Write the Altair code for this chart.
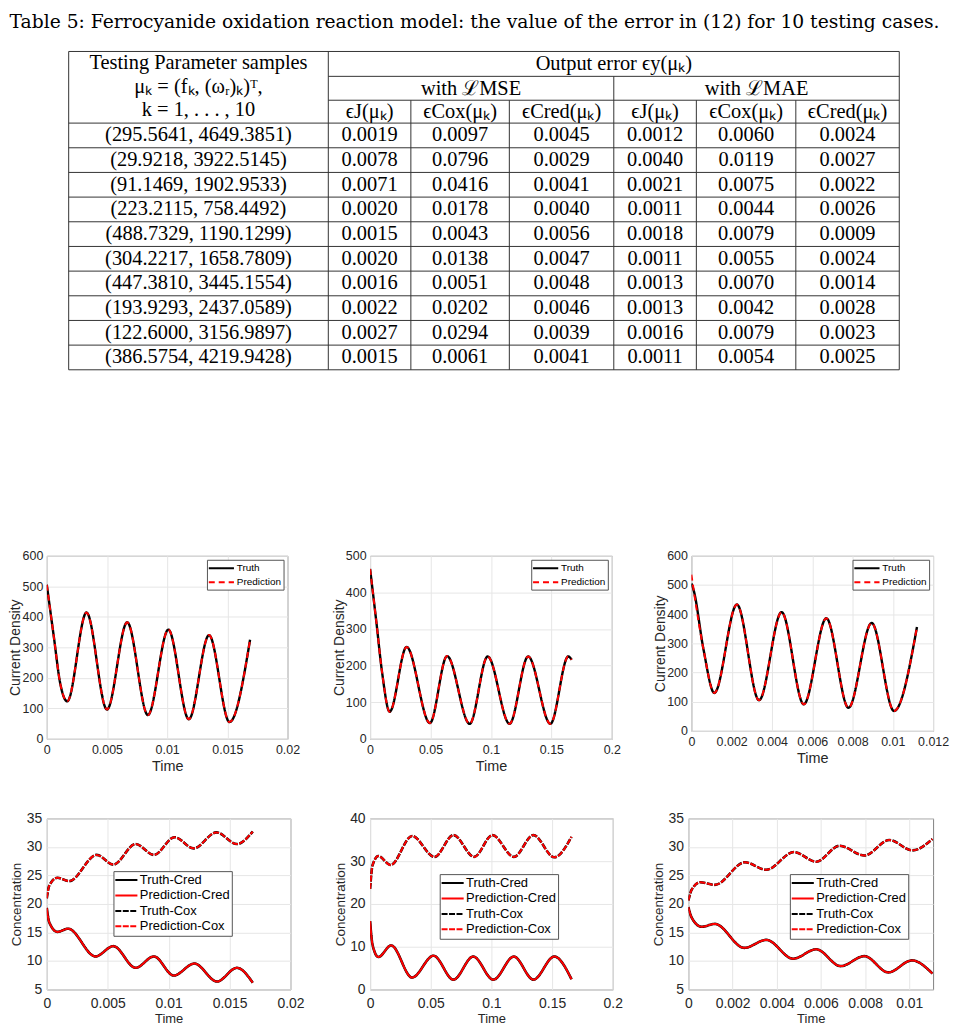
import altair as alt
import pandas as pd

# ---------------- table data ----------------
caption = "Table 5: Ferrocyanide oxidation reaction model: the value of the error in (12) for 10 testing cases."
head_param = ["Testing Parameter samples", "μₖ = (fₖ, (ωᵣ)ₖ)ᵀ,", "k = 1, . . . , 10"]
head_output = "Output error ϵy(μₖ)"
head_groups = ["with ℒMSE", "with ℒMAE"]
head_cols = ["ϵJ(μₖ)", "ϵCox(μₖ)", "ϵCred(μₖ)", "ϵJ(μₖ)", "ϵCox(μₖ)", "ϵCred(μₖ)"]
param_samples = ["(295.5641, 4649.3851)", "(29.9218, 3922.5145)", "(91.1469, 1902.9533)",
                 "(223.2115, 758.4492)", "(488.7329, 1190.1299)", "(304.2217, 1658.7809)",
                 "(447.3810, 3445.1554)", "(193.9293, 2437.0589)", "(122.6000, 3156.9897)",
                 "(386.5754, 4219.9428)"]
mse_J = [0.0019, 0.0078, 0.0071, 0.0020, 0.0015, 0.0020, 0.0016, 0.0022, 0.0027, 0.0015]
mse_Cox = [0.0097, 0.0796, 0.0416, 0.0178, 0.0043, 0.0138, 0.0051, 0.0202, 0.0294, 0.0061]
mse_Cred = [0.0045, 0.0029, 0.0041, 0.0040, 0.0056, 0.0047, 0.0048, 0.0046, 0.0039, 0.0041]
mae_J = [0.0012, 0.0040, 0.0021, 0.0011, 0.0018, 0.0011, 0.0013, 0.0013, 0.0016, 0.0011]
mae_Cox = [0.0060, 0.0119, 0.0075, 0.0044, 0.0079, 0.0055, 0.0070, 0.0042, 0.0079, 0.0054]
mae_Cred = [0.0024, 0.0027, 0.0022, 0.0026, 0.0009, 0.0024, 0.0014, 0.0028, 0.0023, 0.0025]

# ---------------- curve data (read at extrema) ----------------
p1_t = [0, 0.0006, 0.0011, 0.0017, 0.0033, 0.0050, 0.00668, 0.0084, 0.0101, 0.0118, 0.01348, 0.01518, 0.01689]
p1_truth = [505, 330, 185, 123, 414, 96, 382, 78, 358, 64, 340, 55, 325]
p1_pred = [505, 330, 185, 123, 414, 96, 382, 78, 358, 64, 340, 55, 325]
p2_t = [0, 0.005, 0.010, 0.0162, 0.0302, 0.0495, 0.0637, 0.0824, 0.0973, 0.1154, 0.1308, 0.1492, 0.164, 0.1668]
p2_truth = [464, 325, 180, 74, 251, 43, 226, 41, 225, 41, 225, 41, 225, 216]
p2_pred = [464, 325, 180, 74, 251, 43, 226, 41, 225, 41, 225, 41, 225, 216]
p3_t = [0, 0.00012, 0.0006, 0.00114, 0.00226, 0.00336, 0.00448, 0.00558, 0.0067, 0.0078, 0.00895, 0.01006, 0.0112]
p3_truth = [505, 480, 280, 130, 433, 105, 407, 91, 386, 79, 370, 68, 356]
p3_pred = [535, 480, 280, 130, 433, 105, 407, 91, 386, 79, 370, 68, 356]
p4_t_ox = [0, 0.0002, 0.00087, 0.00183, 0.0041, 0.00546, 0.00729, 0.0088, 0.01048, 0.01206, 0.01392, 0.0156, 0.0169]
p4_ox = [21.0, 23.2, 24.6, 24.0, 28.6, 26.9, 30.5, 28.6, 31.7, 29.75, 32.55, 30.5, 32.7]
p4_t_red = [0, 0.0002, 0.00087, 0.00175, 0.0040, 0.00546, 0.00729, 0.00879, 0.01042, 0.01211, 0.01397, 0.0156, 0.0169]
p4_red = [19.3, 16.8, 15.1, 15.66, 10.8, 12.6, 8.8, 10.8, 7.45, 9.55, 6.4, 8.8, 6.2]
p5_t_ox = [0, 0.002, 0.0068, 0.0169, 0.0346, 0.0531, 0.0687, 0.0858, 0.1008, 0.1185, 0.1346, 0.1518, 0.166]
p5_ox = [23.5, 29.0, 31.2, 29.1, 35.9, 31.0, 36.1, 31.0, 36.1, 31.0, 36.1, 30.9, 35.7]
p5_t_red = [0, 0.002, 0.0068, 0.0174, 0.0346, 0.0523, 0.0687, 0.0850, 0.1016, 0.1185, 0.1346, 0.1518, 0.166]
p5_red = [16.0, 10.5, 7.6, 10.3, 2.8, 7.9, 2.3, 7.7, 2.3, 7.7, 2.3, 7.7, 2.4]
p6_t_ox = [0, 0.00015, 0.00053, 0.0012, 0.00256, 0.00353, 0.00478, 0.00579, 0.00684, 0.00797, 0.0091, 0.01015, 0.01105]
p6_ox = [20.6, 22.5, 23.8, 23.35, 27.3, 26.0, 29.1, 27.4, 30.2, 28.5, 31.2, 29.4, 31.4]
p6_t_red = [0, 0.00015, 0.0006, 0.0012, 0.00253, 0.00353, 0.00474, 0.00579, 0.00689, 0.00797, 0.00905, 0.01012, 0.01105]
p6_red = [19.45, 17.6, 16.0, 16.5, 12.3, 13.7, 10.4, 12.05, 9.1, 10.85, 8.0, 10.1, 7.8]

# ---------------- table layout (pixels relative to the table view origin) ----------------
OX, OY = 46, 11                     # page position of the table view origin
TW, TH = 900, 488
PAGE_COL = [68, 329, 412, 511, 616, 699, 799, 903]
COL = [c - OX for c in PAGE_COL]
Y_TOP, Y_OUT, Y_WITH, Y_HEAD, Y_BOT = [v - OY for v in (51, 76, 100, 123, 371)]
ROW_H = (Y_BOT - Y_HEAD) / 10
SERIF = "Liberation Serif"
SANS = "Liberation Sans"

rules = []
def hr(x1, x2, y):
    rules.append(dict(x=x1, x2=x2, y=y, y2=y))
def vr(x, y1, y2):
    rules.append(dict(x=x, x2=x, y=y1, y2=y2))

hr(COL[0], COL[7], Y_TOP)
hr(COL[1], COL[7], Y_OUT)
hr(COL[1], COL[7], Y_WITH)
for i in range(11):
    hr(COL[0], COL[7], Y_HEAD + i * ROW_H)
for c in (0, 1, 7):
    vr(COL[c], Y_TOP, Y_BOT)
vr(COL[4], Y_OUT, Y_BOT)
for c in (2, 3, 5, 6):
    vr(COL[c], Y_WITH, Y_BOT)
rules_df = pd.DataFrame(rules)

texts = []
c0 = (COL[0] + COL[1]) / 2
for txt, y in zip(head_param, [63, 87, 110]):
    texts.append(dict(x=c0, y=y - OY, t=txt))
texts.append(dict(x=(COL[1] + COL[7]) / 2, y=64 - OY, t=head_output))
texts.append(dict(x=(COL[1] + COL[4]) / 2, y=89 - OY, t=head_groups[0]))
texts.append(dict(x=(COL[4] + COL[7]) / 2, y=89 - OY, t=head_groups[1]))
for j, h in enumerate(head_cols):
    texts.append(dict(x=(COL[j + 1] + COL[j + 2]) / 2, y=112 - OY, t=h))
value_cols = [mse_J, mse_Cox, mse_Cred, mae_J, mae_Cox, mae_Cred]
for i in range(10):
    yc = Y_HEAD + ROW_H * (i + 0.5)
    texts.append(dict(x=c0, y=yc, t=param_samples[i]))
    for j, col in enumerate(value_cols):
        texts.append(dict(x=(COL[j + 1] + COL[j + 2]) / 2, y=yc, t=f"{col[i]:.4f}"))
texts_df = pd.DataFrame(texts)
cap_df = pd.DataFrame([dict(x=430, y=10, t=caption)])

txs = alt.Scale(domain=[0, TW], nice=False, zero=False)
tys = alt.Scale(domain=[0, TH], nice=False, zero=False, reverse=True)

rule_layer = alt.Chart(rules_df).mark_rule(color="#333333", strokeWidth=1).encode(
    x=alt.X("x:Q", scale=txs, axis=None), x2="x2:Q",
    y=alt.Y("y:Q", scale=tys, axis=None), y2="y2:Q")
text_layer = alt.Chart(texts_df).mark_text(font=SERIF, fontSize=20.5, baseline="middle", align="center",
                                           color="black").encode(
    x=alt.X("x:Q", scale=txs, axis=None), y=alt.Y("y:Q", scale=tys, axis=None), text="t:N")
cap_layer = alt.Chart(cap_df).mark_text(font="DejaVu Serif", fontSize=18.8, baseline="middle", align="center",
                                        color="black").encode(
    x=alt.X("x:Q", scale=txs, axis=None), y=alt.Y("y:Q", scale=tys, axis=None), text="t:N")
table = alt.layer(rule_layer, text_layer, cap_layer).properties(
    width=TW, height=TH, view=alt.ViewBackground(stroke="transparent"))


# ---------------- panels ----------------
def panel(series, xdom, xvals, ydom, yvals, ytitle, w, h, legend, big):
    lab = 14 if big else 12.5
    xaxis = alt.Axis(values=xvals, format="~f", title="Time", labelFontSize=lab,
                     titleFontSize=13 if big else 14.5, labelPadding=7 if big else 5,
                     titlePadding=2 if big else 3, grid=True, tickSize=0)
    yaxis = alt.Axis(values=yvals, format="~f", title=ytitle, labelFontSize=lab,
                     titleFontSize=13.5 if big else 14, labelPadding=5 if big else 4,
                     minExtent=21 if big else 22, maxExtent=21 if big else 22,
                     titlePadding=2, grid=True, tickSize=0)
    names = [s[0] for s in series]
    cscale = alt.Scale(domain=names, range=[s[3] for s in series])
    dscale = alt.Scale(domain=names, range=[s[4] for s in series])
    layers = []
    for name, t, v, colr, dash, sw in series:
        d = pd.DataFrame({"t": t, "v": v, "series": name})
        layers.append(alt.Chart(d).mark_line(interpolate="monotone", strokeWidth=sw, clip=True).encode(
            x=alt.X("t:Q", scale=alt.Scale(domain=xdom, nice=False, zero=False), axis=xaxis),
            y=alt.Y("v:Q", scale=alt.Scale(domain=ydom, nice=False, zero=False), axis=yaxis),
            color=alt.Color("series:N", scale=cscale, legend=legend),
            strokeDash=alt.StrokeDash("series:N", scale=dscale, legend=legend),
        ))
    return alt.layer(*layers).properties(width=w, height=h)


def top_legend():
    # line symbol 25px long, entry rows 11px high
    return alt.Legend(title=None, orient="top-right", offset=4, fillColor="white", strokeColor="#555555",
                      padding=2, symbolType="M-2.3,0H2.3", symbolSize=121, symbolStrokeWidth=2,
                      symbolOffset=6, labelOffset=9,
                      labelFontSize=10, labelFont=SANS, labelColor="black", rowPadding=2)


def bottom_legend(lx, ly):
    # line symbol 22px long, entry rows 12px high
    return alt.Legend(title=None, orient="none", legendX=lx, legendY=ly, fillColor="white",
                      strokeColor="#555555", padding=2, symbolType="M-1.85,0H1.85", symbolSize=144,
                      symbolStrokeWidth=2, symbolOffset=4, labelOffset=6.5,
                      labelFontSize=13, labelFont=SANS, labelColor="black", rowPadding=1.5)


def cur_series(t, truth, pred):
    return [("Truth", t, truth, "black", [1, 0], 2.4),
            ("Prediction", t, pred, "red", [6, 4], 2.0)]


def conc_series(t_red, red, t_ox, ox):
    return [("Truth-Cred", t_red, red, "black", [1, 0], 2.6),
            ("Prediction-Cred", t_red, red, "red", [1, 0], 2.0),
            ("Truth-Cox", t_ox, ox, "black", [6, 1.5], 2.6),
            ("Prediction-Cox", t_ox, ox, "red", [6, 1.5], 2.0)]


hundreds6 = [0, 100, 200, 300, 400, 500, 600]
hundreds5 = [0, 100, 200, 300, 400, 500]
fives = [5, 10, 15, 20, 25, 30, 35]
tens = [0, 10, 20, 30, 40]

p1 = panel(cur_series(p1_t, p1_truth, p1_pred), [0, 0.02], [0, 0.005, 0.01, 0.015, 0.02],
           [0, 600], hundreds6, "Current Density", 242, 184, top_legend(), False)
p2 = panel(cur_series(p2_t, p2_truth, p2_pred), [0, 0.2], [0, 0.05, 0.1, 0.15, 0.2],
           [0, 500], hundreds5, "Current Density", 243, 184, top_legend(), False)
p3 = panel(cur_series(p3_t, p3_truth, p3_pred), [0, 0.012], [0, 0.002, 0.004, 0.006, 0.008, 0.01, 0.012],
           [0, 600], hundreds6, "Current Density", 243, 176, top_legend(), False).properties(
    title=alt.TitleParams(" ", fontSize=10, offset=4))

p4 = panel(conc_series(p4_t_red, p4_red, p4_t_ox, p4_ox), [0, 0.02], [0, 0.005, 0.01, 0.015, 0.02],
           [5, 35], fives, "Concentration", 245, 172, bottom_legend(67, 53), True)
p5 = panel(conc_series(p5_t_red, p5_red, p5_t_ox, p5_ox), [0, 0.2], [0, 0.05, 0.1, 0.15, 0.2],
           [0, 40], tens, "Concentration", 244, 172, bottom_legend(70, 56), True)
p6 = panel(conc_series(p6_t_red, p6_red, p6_t_ox, p6_ox), [0, 0.01108], [0, 0.002, 0.004, 0.006, 0.008, 0.01],
           [5, 35], fives, "Concentration", 246, 172, bottom_legend(102, 56), True)

ind = dict(color="independent", strokeDash="independent")
row1 = alt.hconcat(p1, p2, p3, spacing=31).resolve_scale(**ind)
row2 = alt.hconcat(p4, p5, p6, spacing=27).resolve_scale(**ind)

chart = alt.vconcat(table, row1, row2, spacing=37).resolve_scale(**ind).properties(
    padding=0, background="white"
).configure_view(stroke="#808080", strokeWidth=1).configure_axis(
    labelFlush=False, labelOverlap=False, domain=False, ticks=False,
    gridColor="#e6e6e6", gridWidth=1, labelColor="#262626", titleColor="#262626",
    labelFont=SANS, titleFont=SANS, titleFontWeight="normal"
)

chart.save("out.html", embed_options={"renderer": "svg", "actions": False})
